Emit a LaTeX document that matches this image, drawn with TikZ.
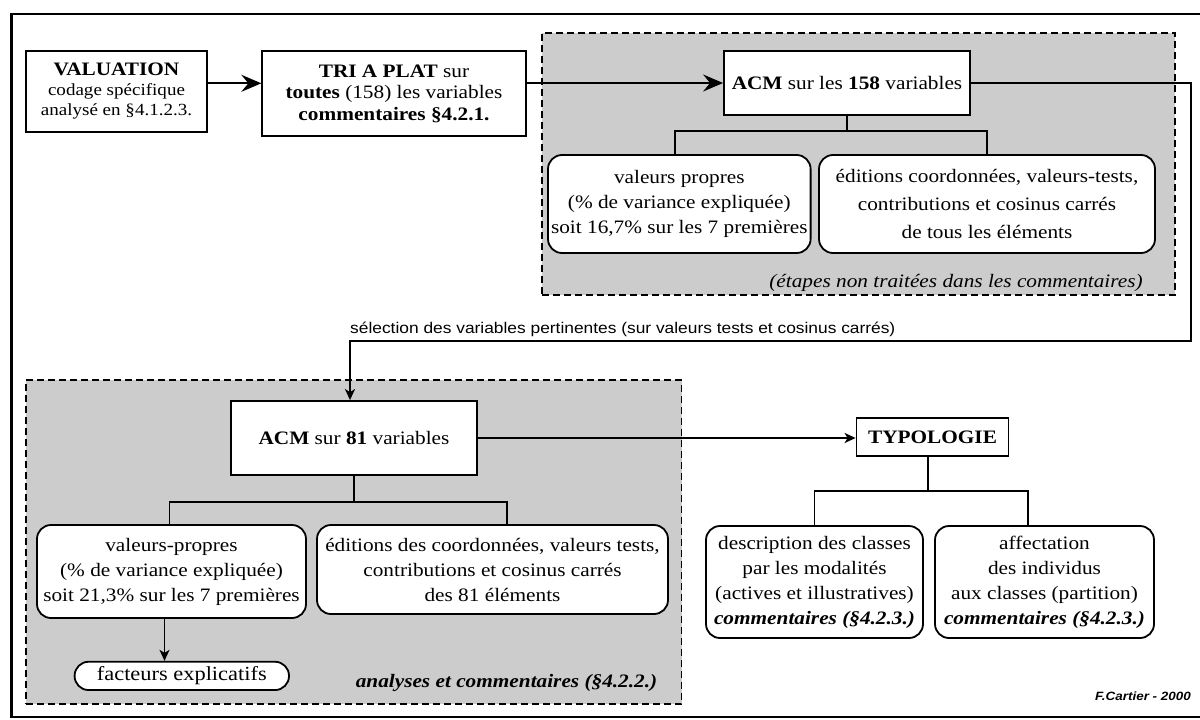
\documentclass[tikz,border=0pt]{standalone}
\usepackage{fontspec}
\setmainfont{Liberation Serif}[FakeStretch=1.12]
\setsansfont{Liberation Sans}[FakeStretch=1.12]
\usetikzlibrary{arrows.meta}
\definecolor{regiongray}{RGB}{204,204,204}
\newcommand\fsz[2]{\fontsize{#1}{#2}\selectfont}
\tikzset{
  base/.style={draw, line width=1.8pt, fill=white, align=center, inner sep=0pt},
  sqbox/.style={base},
  rbox/.style={base, rounded corners=14pt},
  region/.style={draw, dash pattern=on 7pt off 4pt, line width=1.8pt, fill=regiongray, inner sep=0pt},
  conn/.style={line width=1.8pt},
  bigarr/.style={conn, -{Stealth[length=20pt,width=17pt,inset=7pt]}},
  smallarr/.style={conn, -{Stealth[length=11pt,width=10pt,inset=3pt]}},
  lbl/.style={inner sep=0pt, align=center},
}
\begin{document}
\begin{tikzpicture}[x=1pt,y=-1pt]
\useasboundingbox (0,0) rectangle (1200,720);
\clip (0,0) rectangle (1200,720);
\fill[white] (0,0) rectangle (1200,720);
% outer frame
\draw[line width=2.4pt] (11.5,14) rectangle (1215,717);

% regions
\node[region, minimum width=633, minimum height=262] (reg1) at (858.5,164) {};
\node[region, minimum width=655.5, minimum height=324] (reg2) at (353.75,542) {};

% top row
\node[sqbox, minimum width=181, minimum height=81, font=\fsz{17}{20}] (val) at (116.5,91.3)
  {{\fsz{19}{20}\textbf{VALUATION}}\\codage spécifique\\analysé en §4.1.2.3.};
\node[sqbox, minimum width=263.5, minimum height=85, font=\fsz{19}{21.5}] (tri) at (394,93.5)
  {\textbf{TRI A PLAT} sur\\\textbf{toutes} (158) les variables\\\textbf{commentaires §4.2.1.}};
\node[sqbox, minimum width=246, minimum height=64, font=\fsz{19}{22}] (acm158) at (847,83)
  {\textbf{ACM} sur les \textbf{158} variables};
\node[rbox, minimum width=262.6, minimum height=98, font=\fsz{19}{25}] (vp1) at (679.3,204)
  {valeurs propres\\(\% de variance expliquée)\\soit 16,7\% sur les 7 premières};
\node[rbox, minimum width=336, minimum height=98, font=\fsz{19}{28}] (ed1) at (987,204)
  {éditions coordonnées, valeurs-tests,\\contributions et cosinus carrés\\de tous les éléments};
\node[lbl, font=\fsz{19}{22}\itshape] (etapes) at (956,283)
  {(étapes non traitées dans les commentaires)};

% selection label
\node[lbl, anchor=south west, font=\fsz{15.5}{17}\sffamily] (sel) at (350,337)
  {sélection des variables pertinentes (sur valeurs tests et cosinus carrés)};

% lower left
\node[sqbox, minimum width=246, minimum height=74, font=\fsz{19}{22}] (acm81) at (354,438)
  {\textbf{ACM} sur \textbf{81} variables};
\node[rbox, minimum width=269, minimum height=93, font=\fsz{19}{25}] (vp2) at (171.5,571.5)
  {valeurs-propres\\(\% de variance expliquée)\\soit 21,3\% sur les 7 premières};
\node[rbox, minimum width=351, minimum height=89, font=\fsz{19}{25}] (ed2) at (492.5,569.5)
  {éditions des coordonnées, valeurs tests,\\contributions et cosinus carrés\\des 81 éléments};
\node[rbox, minimum width=214.4, minimum height=28.3, font=\fsz{20}{22}] (fact) at (181.8,675.9)
  {facteurs explicatifs};
\node[lbl, font=\fsz{19}{22}\bfseries\itshape] (analyses) at (506.5,683)
  {analyses et commentaires (§4.2.2.)};

% typology
\node[sqbox, minimum width=152, minimum height=37.7, font=\fsz{19}{22}\bfseries] (typo) at (932.5,436.9)
  {TYPOLOGIE};
\node[rbox, minimum width=217, minimum height=112, font=\fsz{19}{25}] (desc) at (814.5,582)
  {description des classes\\par les modalités\\(actives et illustratives)\\\textbf{\textit{commentaires (§4.2.3.)}}};
\node[rbox, minimum width=219, minimum height=112, font=\fsz{19}{25}] (aff) at (1044.5,582)
  {affectation\\des individus\\aux classes (partition)\\\textbf{\textit{commentaires (§4.2.3.)}}};
\node[lbl, font=\fsz{12}{14}\sffamily\bfseries\itshape] (credit) at (1143,696) {F.Cartier - 2000};

% connectors
\draw[bigarr] ([yshift=8pt]val.east) -- ([yshift=8pt]val.east -| tri.west);
\draw[bigarr] (tri.east |- acm158.west) -- (acm158.west);
\coordinate (cR) at (1191,341);
\draw[smallarr] (acm158.east) -| (cR) -| ([xshift=-4pt]acm81.north);

\coordinate (j1) at (848,131);
\draw[conn] (acm158.south) -- (acm158.south |- j1);
\draw[conn] ([xshift=-4pt]vp1.north) |- (j1) -| (ed1.north);

\coordinate (j2) at (354,501.7);
\draw[conn] (acm81.south) -- (j2);
\draw[conn] ([xshift=-2pt]vp2.north) |- (j2) -| ([xshift=14.5pt]ed2.north);
\draw[smallarr] ([xshift=-7pt]vp2.south) -- ([xshift=-7pt]vp2.south |- fact.north);

\draw[smallarr] (acm81.east) -- (acm81.east -| typo.west);
\coordinate (j3) at (928,490.7);
\draw[conn] (j3 |- typo.south) -- (j3);
\draw[conn] (desc.north) |- (j3) -| ([xshift=-16.7pt]aff.north);
\end{tikzpicture}
\end{document}
